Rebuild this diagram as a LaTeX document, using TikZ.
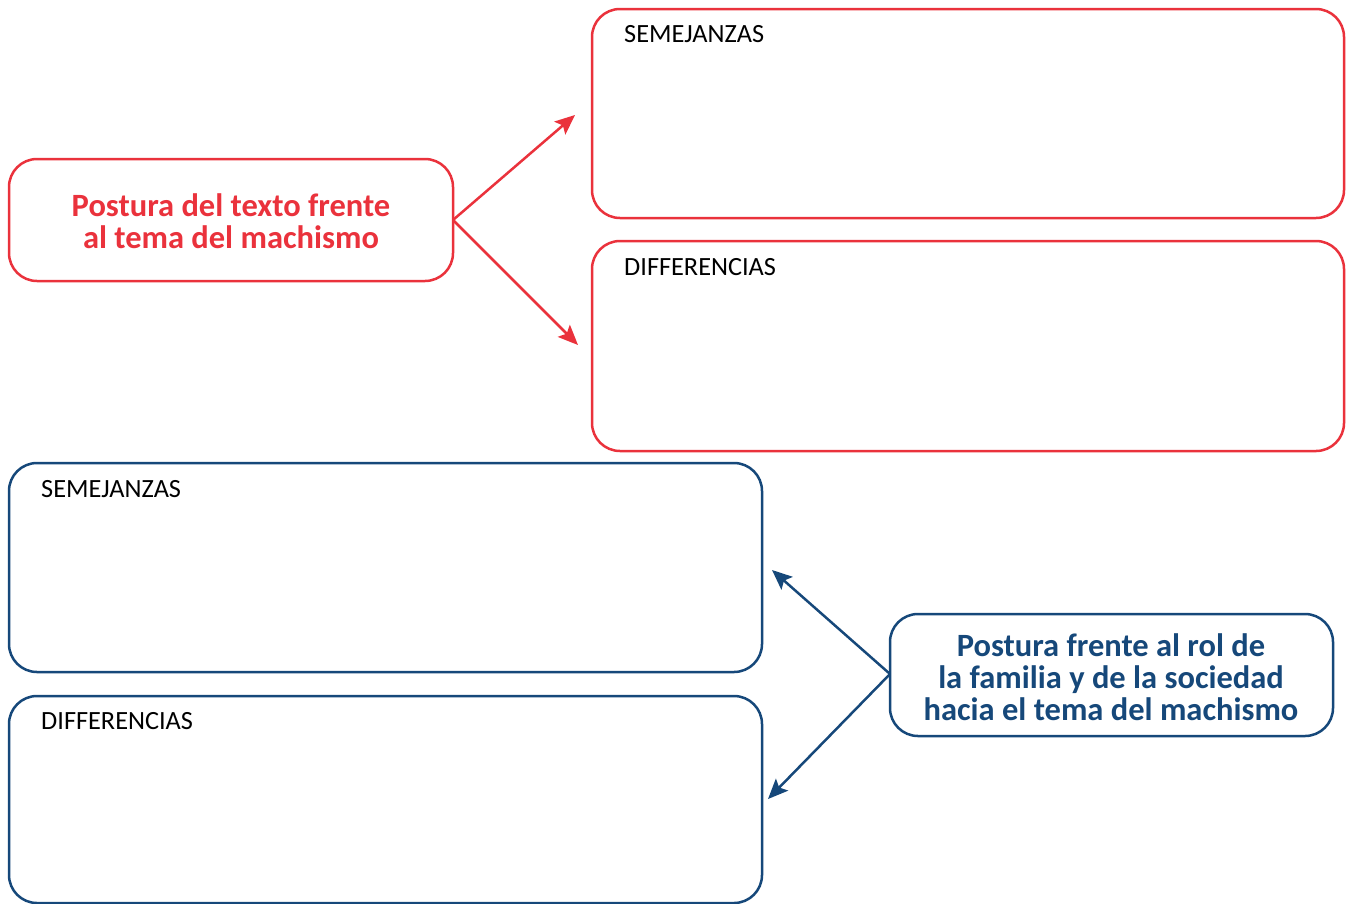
\documentclass[tikz,border=0pt]{standalone}
\usepackage{fontspec}
\setmainfont{Carlito}
\usetikzlibrary{arrows.meta}
\definecolor{cred}{RGB}{234,50,60}
\definecolor{cblue}{RGB}{22,72,122}
\begin{document}
\begin{tikzpicture}[x=1pt,y=-1pt,
  box/.style={draw,line width=2.5pt,rounded corners=28pt},
  lbl/.style={anchor=base west,font=\fontsize{26.3}{30}\selectfont,text=black,inner sep=0pt},
  title/.style={font=\bfseries\fontsize{32.5}{32}\selectfont,align=center,inner sep=0pt},
  arr/.style={line width=2.5pt,-{Stealth[length=20pt,width=17pt,inset=4pt]}}]
\useasboundingbox (0,0) rectangle (1346,903);
% red group
\draw[box,cred] (9,159) rectangle (453,281);
\node[title,text=cred] (rt) at (231,221) {Postura del texto frente\\al tema del machismo};
\coordinate (rl) at (453,220);
\draw[box,cred] (592,9) rectangle (1344,218);
\node[lbl] (rs) at (624,42) {SEMEJANZAS};
\draw[box,cred] (592,241) rectangle (1344,451);
\node[lbl] (rd) at (624,275) {DIFFERENCIAS};
\coordinate (ra) at (575,115);
\coordinate (rb) at (578,345);
\draw[arr,cred] (rl) -- (ra);
\draw[arr,cred] (rl) -- (rb);
% blue group
\draw[box,cblue] (9,463) rectangle (762,672);
\node[lbl] (bs) at (41,497) {SEMEJANZAS};
\draw[box,cblue] (9,696) rectangle (762,903);
\node[lbl] (bd) at (41,729) {DIFFERENCIAS};
\draw[box,cblue] (890,614) rectangle (1333,736);
\node[title,text=cblue] (bt) at (1111,677) {Postura frente al rol de\\la familia y de la sociedad\\hacia el tema del machismo};
\coordinate (bl) at (890,674);
\coordinate (ba) at (772,570);
\coordinate (bb) at (768,799);
\draw[arr,cblue] (bl) -- (ba);
\draw[arr,cblue] (bl) -- (bb);
\end{tikzpicture}
\end{document}
